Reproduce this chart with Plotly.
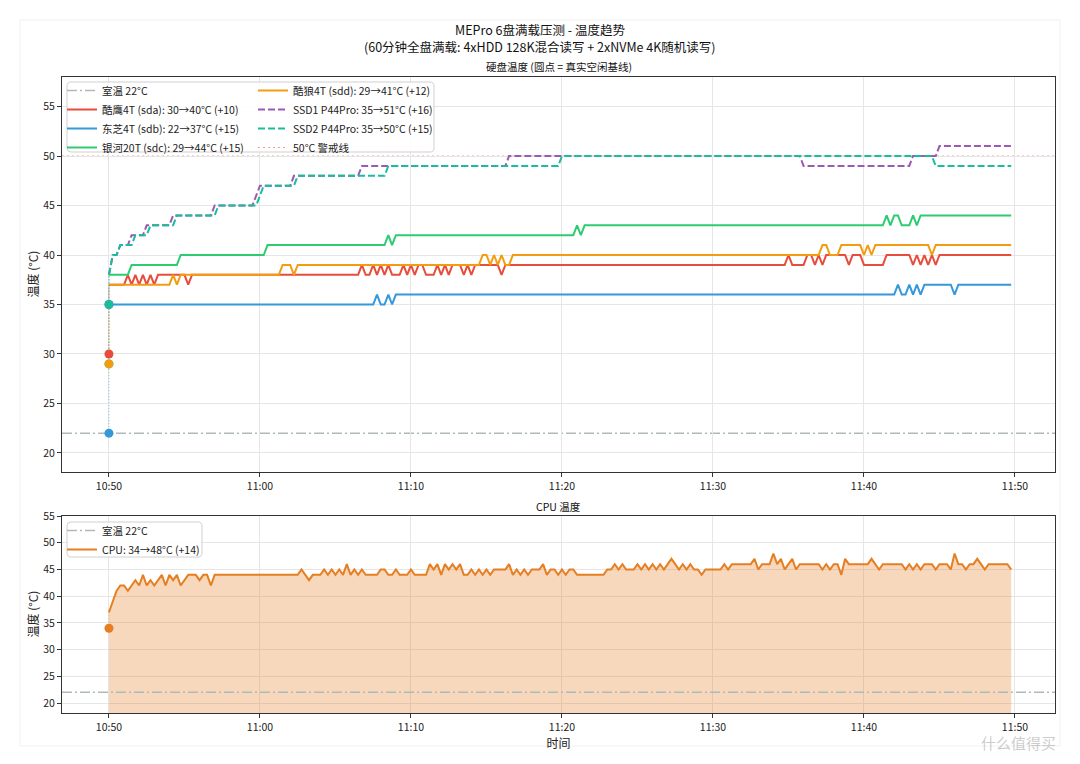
import numpy as np
import pandas as pd
import plotly.graph_objects as go

# ---------------- data ----------------
START = "2024-05-01 10:50:00"
SAMPLE_MIN = 0.25          # one sample every 15 s
N_SAMPLES = 240            # 10:50:00 .. 11:49:45

ROOM_TEMP = 22
WARN_TEMP = 50

# idle baselines (dots)
SDA_BASE, SDB_BASE, SDC_BASE, SDD_BASE = 30, 22, 29, 29
SSD1_BASE, SSD2_BASE, CPU_BASE = 35, 35, 34

# change points: [minute after 10:50, value]  (value holds until next change)
SDA_CHANGES = [[0, 37], [1.25, 38], [1.5, 37], [1.75, 38], [2.0, 37], [2.25, 38], [2.5, 37], [2.75, 38],
               [3.0, 37], [3.25, 38], [5.25, 37], [5.5, 38], [16.75, 39], [17.0, 38], [17.5, 39], [17.75, 38],
               [18.0, 39], [18.25, 38], [18.5, 39], [18.75, 38], [19.5, 39], [19.75, 38], [20.0, 39], [20.25, 38],
               [20.5, 39], [21.0, 38], [21.75, 39], [22.0, 38], [22.25, 39], [22.5, 38], [22.75, 39], [23.5, 38],
               [23.75, 39], [24.0, 38], [24.25, 39], [26.0, 38], [26.25, 39], [45.0, 40], [45.25, 39], [46.25, 40],
               [46.75, 39], [47.0, 40], [47.25, 39], [47.5, 40], [49.0, 39], [49.25, 40], [50.0, 39], [51.5, 40],
               [53.25, 39], [53.5, 40], [53.75, 39], [54.0, 40], [54.25, 39], [54.5, 40], [54.75, 39], [55.0, 40]]
SDB_CHANGES = [[0, 35], [17.75, 36], [18.0, 35], [18.5, 36], [18.75, 35], [19.0, 36], [52.25, 37], [52.5, 36],
               [53.0, 37], [53.25, 36], [53.5, 37], [53.75, 36], [54.0, 37], [56.0, 36], [56.25, 37]]
SDC_CHANGES = [[0, 38], [1.5, 39], [4.75, 40], [10.5, 41], [18.5, 42], [18.75, 41], [19.0, 42], [31.0, 43],
               [31.25, 42], [31.5, 43], [51.5, 44], [51.75, 43], [52.0, 44], [52.5, 43], [53.25, 44], [53.5, 43],
               [53.75, 44]]
SDD_CHANGES = [[0, 37], [4.25, 38], [4.5, 37], [4.75, 38], [11.5, 39], [12.25, 38], [12.5, 39], [24.75, 40],
               [25.25, 39], [25.5, 40], [25.75, 39], [26.0, 40], [26.25, 39], [26.75, 40], [47.25, 41], [47.75, 40],
               [48.5, 41], [50.0, 40], [50.25, 41], [50.5, 40], [50.75, 41], [54.5, 40], [54.75, 41]]
SSD1_CHANGES = [[0, 38], [0.25, 40], [0.75, 41], [1.5, 42], [2.5, 43], [4.25, 44], [7.0, 45], [9.75, 46],
                [10.0, 47], [12.25, 48], [16.75, 49], [26.5, 50], [46.0, 49], [53.25, 50], [55.0, 51]]
SSD2_CHANGES = [[0, 38], [0.25, 40], [0.75, 41], [1.75, 42], [2.75, 43], [4.5, 44], [7.25, 45], [10.0, 46],
                [10.25, 47], [12.5, 48], [18.5, 49], [30.0, 50], [54.75, 49]]
CPU_CHANGES = [[0, 37], [0.25, 39], [0.5, 41], [0.75, 42], [1.25, 41], [1.5, 42], [1.75, 43], [2.0, 42],
               [2.25, 44], [2.5, 42], [2.75, 43], [3.0, 42], [3.25, 43], [3.5, 44], [3.75, 42], [4.0, 44],
               [4.25, 43], [4.5, 44], [4.75, 42], [5.0, 43], [5.25, 44], [6.0, 43], [6.25, 44], [6.75, 42],
               [7.0, 44], [12.75, 45], [13.0, 44], [13.25, 43], [13.5, 44], [14.25, 45], [14.5, 44], [14.75, 45],
               [15.0, 44], [15.25, 45], [15.5, 44], [15.75, 46], [16.0, 44], [16.25, 45], [16.5, 44], [16.75, 45],
               [17.0, 44], [18.0, 45], [18.5, 44], [19.0, 45], [19.25, 44], [20.0, 45], [20.25, 44], [21.25, 46],
               [21.5, 45], [21.75, 46], [22.0, 44], [22.25, 46], [22.5, 45], [22.75, 46], [23.0, 45], [23.25, 46],
               [23.5, 44], [24.0, 45], [24.25, 44], [24.5, 45], [24.75, 44], [25.0, 45], [25.25, 44], [25.5, 45],
               [26.5, 46], [26.75, 44], [27.0, 45], [27.25, 44], [27.5, 45], [27.75, 44], [28.0, 45], [28.75, 46],
               [29.0, 44], [29.25, 45], [29.75, 44], [30.0, 45], [30.25, 44], [30.5, 45], [31.0, 44], [33.0, 45],
               [33.5, 46], [33.75, 45], [34.0, 46], [34.25, 45], [35.0, 46], [35.25, 45], [35.5, 46], [35.75, 45],
               [36.0, 46], [36.25, 45], [36.5, 46], [36.75, 45], [37.0, 46], [37.25, 47], [37.5, 46], [37.75, 45],
               [38.0, 46], [38.25, 45], [38.5, 46], [38.75, 45], [39.25, 44], [39.5, 45], [40.75, 46], [41.0, 45],
               [41.25, 46], [42.75, 47], [43.0, 45], [43.25, 46], [44.0, 48], [44.25, 46], [44.5, 47], [44.75, 45],
               [45.0, 46], [45.25, 47], [45.5, 45], [45.75, 46], [47.25, 45], [47.5, 46], [47.75, 45], [48.0, 46],
               [48.5, 44], [48.75, 47], [49.0, 46], [50.5, 47], [50.75, 46], [51.0, 45], [51.25, 46], [52.75, 45],
               [53.0, 46], [53.25, 45], [53.5, 46], [53.75, 45], [54.0, 46], [54.75, 45], [55.0, 46], [55.75, 45],
               [56.0, 48], [56.25, 46], [56.75, 45], [57.0, 46], [57.5, 47], [57.75, 46], [58.0, 45], [58.25, 46],
               [59.75, 45]]

# ---------------- helpers ----------------
FONT = "Noto Sans CJK SC"
t_min = np.arange(N_SAMPLES) * SAMPLE_MIN
t0 = pd.Timestamp(START)
X = t0 + pd.to_timedelta(t_min, unit="min")


def expand(changes):
    out = []
    for t in t_min:
        v = changes[0][1]
        for tc, vc in changes:
            if tc <= t + 1e-9:
                v = vc
        out.append(v)
    return np.array(out)


W, H = 1080, 764
ML, MR, MT, MB = 62, 25, 77, 51
PW, PH = W - ML - MR, H - MT - MB


def px_x(px):
    return (px - ML) / PW


def px_y(py):
    return (H - MB - py) / PH


def rounded_box(x0, y0, x1, y1, r=4):
    pts = lambda x, y: f"{px_x(x):.5f},{px_y(y):.5f}"
    return (f"M {pts(x0 + r, y0)} L {pts(x1 - r, y0)} Q {pts(x1, y0)} {pts(x1, y0 + r)} "
            f"L {pts(x1, y1 - r)} Q {pts(x1, y1)} {pts(x1 - r, y1)} L {pts(x0 + r, y1)} "
            f"Q {pts(x0, y1)} {pts(x0, y1 - r)} L {pts(x0, y0 + r)} Q {pts(x0, y0)} {pts(x0 + r, y0)} Z")


COL = dict(sda="#e74c3c", sdb="#3498db", sdc="#2ecc71", sdd="#f39c12",
           ssd1="#9b59b6", ssd2="#1abc9c", cpu="#e67e22", room="#b0b9ba", warn="rgba(231,76,60,0.55)")

series = [
    ("sda", "酷鹰4T (sda)", SDA_BASE, SDA_CHANGES, "solid", "legend"),
    ("sdb", "东芝4T (sdb)", SDB_BASE, SDB_CHANGES, "solid", "legend"),
    ("sdc", "银河20T (sdc)", SDC_BASE, SDC_CHANGES, "solid", "legend"),
    ("sdd", "酷狼4T (sdd)", SDD_BASE, SDD_CHANGES, "solid", "legend2"),
    ("ssd1", "SSD1 P44Pro", SSD1_BASE, SSD1_CHANGES, "7px,3px", "legend2"),
    ("ssd2", "SSD2 P44Pro", SSD2_BASE, SSD2_CHANGES, "7px,3px", "legend2"),
]

fig = go.Figure()

# room temperature legend entry (line itself drawn as a shape across the axes)
fig.add_trace(go.Scatter(x=[None], y=[None], mode="lines", name=f"室温 {ROOM_TEMP}°C",
                         line=dict(color=COL["room"], width=1.5, dash="10px,3px,2px,3px"),
                         legend="legend", xaxis="x", yaxis="y"))

vals = {}
for key, name, base, ch, dash, lg in series:
    y = expand(ch)
    vals[key] = y
    label = f"{name}: {base}→{int(y.max())}°C (+{int(y.max()) - base})"
    fig.add_trace(go.Scatter(x=X, y=y, mode="lines", name=label,
                             line=dict(color=COL[key], width=2, dash=dash),
                             legend=lg, xaxis="x", yaxis="y"))

fig.add_trace(go.Scatter(x=[None], y=[None], mode="lines", name=f"{WARN_TEMP}°C 警戒线",
                         line=dict(color=COL["warn"], width=1, dash="2px,3px"),
                         legend="legend2", xaxis="x", yaxis="y"))

# baseline connectors + dots
for key, name, base, ch, dash, lg in series:
    fig.add_trace(go.Scatter(x=[X[0], X[0]], y=[base, vals[key][0]], mode="lines", showlegend=False,
                             line=dict(color=COL[key], width=1, dash="1px,2px"), opacity=0.6,
                             hoverinfo="skip", xaxis="x", yaxis="y"))
for key, name, base, ch, dash, lg in series:
    fig.add_trace(go.Scatter(x=[X[0]], y=[base], mode="markers", showlegend=False,
                             marker=dict(color=COL[key], size=9), xaxis="x", yaxis="y"))

# ---- CPU ----
cpu = expand(CPU_CHANGES)
fig.add_trace(go.Scatter(x=[None], y=[None], mode="lines", name=f"室温 {ROOM_TEMP}°C",
                         line=dict(color=COL["room"], width=1.5, dash="10px,3px,2px,3px"),
                         legend="legend3", xaxis="x2", yaxis="y2"))
fig.add_trace(go.Scatter(x=X, y=cpu, mode="lines", fill="tozeroy", fillcolor="rgba(230,126,34,0.3)",
                         line=dict(width=0, color="rgba(0,0,0,0)"), showlegend=False, hoverinfo="skip",
                         xaxis="x2", yaxis="y2"))
fig.add_trace(go.Scatter(x=X, y=cpu, mode="lines",
                         name=f"CPU: {CPU_BASE}→{int(cpu.max())}°C (+{int(cpu.max()) - CPU_BASE})",
                         line=dict(color=COL["cpu"], width=2), legend="legend3", xaxis="x2", yaxis="y2"))
fig.add_trace(go.Scatter(x=[X[0], X[0]], y=[CPU_BASE, cpu[0]], mode="lines", showlegend=False,
                         line=dict(color=COL["cpu"], width=1, dash="1px,2px"), opacity=0.6,
                         xaxis="x2", yaxis="y2"))
fig.add_trace(go.Scatter(x=[X[0]], y=[CPU_BASE], mode="markers", showlegend=False,
                         marker=dict(color=COL["cpu"], size=9), xaxis="x2", yaxis="y2"))

# ---------------- layout ----------------
x_range = [t0 + pd.Timedelta(minutes=-3.11), t0 + pd.Timedelta(minutes=62.65)]
axis_common = dict(showline=True, mirror=True, linecolor="#333333", linewidth=1,
                   ticks="outside", ticklen=4, tickcolor="#333333",
                   showgrid=True, gridcolor="#e6e6e6", gridwidth=1, zeroline=False,
                   tickfont=dict(family=FONT, size=10.5, color="#222222"))
xaxis_common = dict(axis_common, type="date", range=x_range, tickformat="%H:%M",
                    tick0=START, dtick=600000)

top_dom = [px_y(472), 1.0]
bot_dom = [0.0, px_y(516)]

legend_common = dict(xref="container", yref="container", xanchor="left", yanchor="top",
                     bgcolor="rgba(0,0,0,0)", borderwidth=0, font=dict(family=FONT, size=10.5),
                     tracegroupgap=0)

fig.update_layout(
    width=W, height=H,
    margin=dict(l=ML, r=MR, t=MT, b=MB, autoexpand=False),
    paper_bgcolor="white", plot_bgcolor="white",
    font=dict(family=FONT, size=11, color="#222222"),
    xaxis=dict(xaxis_common, domain=[0, 1], anchor="y"),
    yaxis=dict(axis_common, domain=top_dom, anchor="x", range=[18.08, 57.98], dtick=5, tick0=20),
    xaxis2=dict(xaxis_common, domain=[0, 1], anchor="y2",
                title=dict(text="时间", font=dict(family=FONT, size=12), standoff=4)),
    yaxis2=dict(axis_common, domain=bot_dom, anchor="x2", range=[18.13, 55.02], dtick=5, tick0=20),
    legend=dict(legend_common, x=62 / W, y=1 - 76 / H),
    legend2=dict(legend_common, x=253 / W, y=1 - 76 / H),
    legend3=dict(legend_common, x=62 / W, y=1 - 516 / H),
    showlegend=True,
)

shapes = [
    dict(type="rect", xref="paper", yref="paper", x0=px_x(20), x1=px_x(1060), y0=px_y(746), y1=px_y(20),
         line=dict(color="rgba(0,0,0,0.06)", width=1), fillcolor="rgba(0,0,0,0)", layer="below"),
    dict(type="line", xref="x domain", yref="y", x0=0, x1=1, y0=ROOM_TEMP, y1=ROOM_TEMP,
         line=dict(color=COL["room"], width=1.5, dash="10px,3px,2px,3px"), layer="below"),
    dict(type="line", xref="x domain", yref="y", x0=0, x1=1, y0=WARN_TEMP, y1=WARN_TEMP,
         line=dict(color=COL["warn"], width=1, dash="2px,3px"), layer="below"),
    dict(type="line", xref="x2 domain", yref="y2", x0=0, x1=1, y0=ROOM_TEMP, y1=ROOM_TEMP,
         line=dict(color=COL["room"], width=1.5, dash="10px,3px,2px,3px"), layer="above"),
    dict(type="path", xref="paper", yref="paper", path=rounded_box(67, 82, 434, 152),
         line=dict(color="#d0d0d0", width=1), fillcolor="rgba(255,255,255,0.85)", layer="above"),
    dict(type="path", xref="paper", yref="paper", path=rounded_box(67, 522, 202, 557),
         line=dict(color="#d0d0d0", width=1), fillcolor="rgba(255,255,255,0.85)", layer="above"),
]
fig.update_layout(shapes=shapes)

title_font = dict(family=FONT, size=12.5, color="#111111")
small_font = dict(family=FONT, size=10.5, color="#111111")
annotations = [
    dict(text="MEPro 6盘满载压测 - 温度趋势", xref="paper", yref="paper", x=px_x(540), y=px_y(30),
         xanchor="center", yanchor="middle", showarrow=False, font=title_font),
    dict(text="(60分钟全盘满载: 4xHDD 128K混合读写 + 2xNVMe 4K随机读写)", xref="paper", yref="paper",
         x=px_x(540), y=px_y(47), xanchor="center", yanchor="middle", showarrow=False, font=title_font),
    dict(text="硬盘温度 (圆点 = 真实空闲基线)", xref="paper", yref="paper", x=0.5, y=px_y(67),
         xanchor="center", yanchor="middle", showarrow=False, font=small_font),
    dict(text="CPU 温度", xref="paper", yref="paper", x=0.5, y=px_y(506),
         xanchor="center", yanchor="middle", showarrow=False, font=small_font),
    dict(text="温度 (°C)", xref="paper", yref="paper", x=px_x(32), y=(top_dom[0] + top_dom[1]) / 2,
         xanchor="center", yanchor="middle", textangle=-90, showarrow=False,
         font=dict(family=FONT, size=12, color="#222222")),
    dict(text="温度 (°C)", xref="paper", yref="paper", x=px_x(32), y=(bot_dom[0] + bot_dom[1]) / 2,
         xanchor="center", yanchor="middle", textangle=-90, showarrow=False,
         font=dict(family=FONT, size=12, color="#222222")),
    dict(text="什么值得买", xref="paper", yref="paper", x=px_x(1058), y=px_y(742), xanchor="right",
         yanchor="middle", showarrow=False, font=dict(family=FONT, size=15, color="rgba(160,160,160,0.55)")),
]
fig.update_layout(annotations=annotations)

fig.write_html("out.html")
